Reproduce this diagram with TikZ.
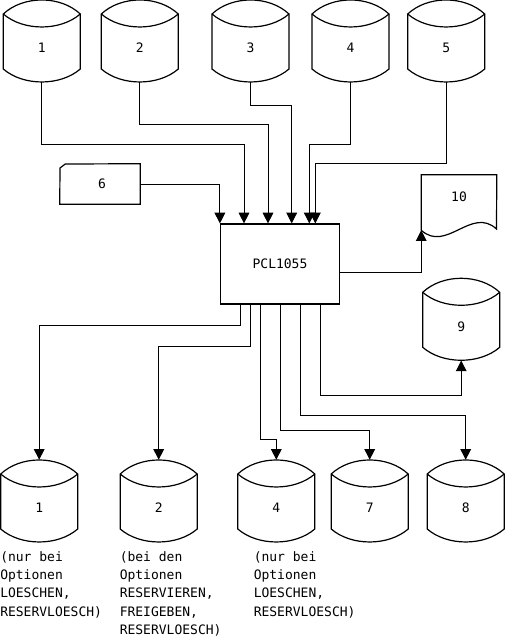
\documentclass[tikz,border=0pt]{standalone}
\usepackage{fontspec}
\setmonofont{DejaVu Sans Mono}
\usetikzlibrary{arrows.meta,calc}

% disk can: name, left x, top y, label
\newcommand{\diskcan}[4]{%
  \draw [line width=0.9] (#2,#3+14) .. controls (#2+20,#3-4.7) and (#2+57,#3-4.7) .. (#2+77,#3+14) -- (#2+77,#3+69) .. controls (#2+57,#3+86.3) and (#2+20,#3+86.3) .. (#2,#3+69) -- cycle ;
  \draw [line width=0.9] (#2,#3+14) .. controls (#2+20,#3+31.3) and (#2+57,#3+31.3) .. (#2+77,#3+14) ;
  \node [can, label={[yshift=-5.25pt]center:#4}] (#1) at (#2+38.5,#3+41) {};
}

\begin{document}
\begin{tikzpicture}[x=0.75pt,y=-0.75pt,
  every node/.style={font=\ttfamily\fontsize{9.75}{12}\selectfont},
  can/.style={rectangle, inner sep=0, minimum width=57.75pt, minimum height=61.5pt},
  proc/.style={draw, line width=0.9, rectangle, inner sep=0, minimum width=89.25pt, minimum height=60pt},
  doc/.style={rectangle, inner sep=0, minimum width=56.25pt, minimum height=41.25pt},
  note/.style={font=\ttfamily\fontsize{9.75}{13.8}\selectfont, align=left, inner sep=0, anchor=north west},
  arr/.style={line width=0.75, -{Triangle[length=8pt,width=8pt]}}]

\useasboundingbox (0,0) rectangle (504,639);

%Shape: Cans (input)
\diskcan{in1}{3.3}{0}{1}
\diskcan{in2}{101.3}{0}{2}
\diskcan{in3}{212}{0}{3}
\diskcan{in4}{312}{0}{4}
\diskcan{in5}{407.7}{0}{5}

%Shape: Card
\node [rectangle, inner sep=0, minimum width=60pt, minimum height=30pt, label={[xshift=1.5pt]center:6}] (card6) at (100,184) {};
\draw [line width=0.9] (60,168) -- (65.3,164) -- (card6.north east) -- (card6.south east) -- (card6.south west) -- cycle ;

%Shape: Process
\node [proc] (pcl) at (280,264) {PCL1055};

%Shape: Document
\node [doc, label={[yshift=4pt]center:10}] (doc10) at (459,202.5) {};
\draw [line width=0.9] (doc10.south west) -- (doc10.north west) -- (doc10.north east) -- (496.5,229) .. controls (471.5,206) and (446.5,253) .. (doc10.south west) ;

%Shape: Cans (output)
\diskcan{out9}{422.7}{278.3}{9}
\diskcan{out1}{0.7}{460}{1}
\diskcan{out2}{120.2}{460}{2}
\diskcan{out4}{237.8}{460}{4}
\diskcan{out7}{331.2}{460}{7}
\diskcan{out8}{427.2}{460}{8}

%Connectors in
\draw [arr] (card6.east) -| (pcl.north west) ;
\draw [arr] (in1.south) -- ++(0,62) -| ($(pcl.north)+(-36,0)$) ;
\draw [arr] (in2.south) -- ++(0,42) -| ($(pcl.north)+(-12,0)$) ;
\draw [arr] (in3.south) -- ++(0,23) -| ($(pcl.north)+(11.7,0)$) ;
\draw [arr] (in4.south) -- ++(0,62) -| ($(pcl.north)+(29.3,0)$) ;
\draw [arr] (in5.south) -- ++(0,81) -| ($(pcl.north)+(35.3,0)$) ;

%Connectors out
\draw [arr] ($(pcl.east)+(0,8)$) -| (doc10.south west) ;
\draw [arr] (pcl.south) ++(-40,0) -- ++(0,21) -| (out1.north) ;
\draw [arr] (pcl.south) ++(-30,0) -- ++(0,42) -| (out2.north) ;
\draw [arr] (pcl.south) ++(-20,0) -- ++(0,135.3) -| (out4.north) ;
\draw [arr] (pcl.south) -- ++(0,126) -| (out7.north) ;
\draw [arr] (pcl.south) ++(20,0) -- ++(0,111.3) -| (out8.north) ;
\draw [arr] (pcl.south) ++(40,0) -- ++(0,91) -| (out9.south) ;

% Text Node
\node [note] (note1) at (0,551) {(nur bei\\Optionen\\LOESCHEN,\\RESERVLOESCH)};
\node [note] (note2) at (119.5,551) {(bei den\\Optionen\\RESERVIEREN,\\FREIGEBEN,\\RESERVLOESCH)};
\node [note] (note4) at (253.5,551) {(nur bei\\Optionen\\LOESCHEN,\\RESERVLOESCH)};

\end{tikzpicture}
\end{document}
